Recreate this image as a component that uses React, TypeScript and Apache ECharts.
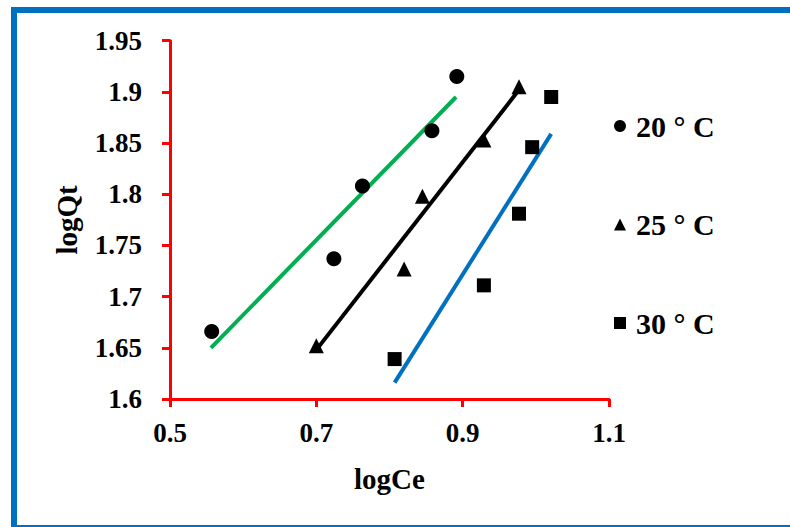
import React, { useEffect, useRef } from "react";
import * as echarts from "echarts";

const xTicks = { min: 0.5, max: 1.1, interval: 0.2 };
const yTicks = { min: 1.6, max: 1.95, interval: 0.05 };

const legendNames = ["20 ° C", "25 ° C", "30 ° C"];

const points20: [number, number][] = [
  [0.557, 1.666],
  [0.724, 1.737],
  [0.763, 1.808],
  [0.858, 1.862],
  [0.892, 1.915],
];
const points25: [number, number][] = [
  [0.7, 1.652],
  [0.82, 1.727],
  [0.845, 1.798],
  [0.929, 1.853],
  [0.977, 1.905],
];
const points30: [number, number][] = [
  [0.807, 1.639],
  [0.929, 1.711],
  [0.977, 1.781],
  [0.995, 1.846],
  [1.021, 1.895],
];

const fit20: [number, number][] = [
  [0.556, 1.65],
  [0.891, 1.895],
];
const fit25: [number, number][] = [
  [0.7, 1.648],
  [0.977, 1.902],
];
const fit30: [number, number][] = [
  [0.807, 1.616],
  [1.021, 1.859],
];

const FONT = "'Liberation Serif', 'Times New Roman', serif";

export default function App() {
  const ref = useRef<HTMLDivElement>(null);
  useEffect(() => {
    if (!ref.current) return;
    const chart = echarts.init(ref.current, null, { renderer: "svg" });
    const axisCommon = {
      axisLine: { show: true, lineStyle: { color: "#FF0000", width: 3 } },
      axisTick: { show: true, inside: false, length: 8, lineStyle: { color: "#FF0000", width: 3 } },
      splitLine: { show: false },
      nameTextStyle: { fontFamily: FONT, fontWeight: "bold", fontSize: 29, color: "#000" },
    };
    const markerStyle = { color: "#000", opacity: 1 };
    chart.setOption({
      animation: false,
      backgroundColor: "#fff",
      grid: { left: 170, right: 181, top: 40.7, bottom: 128, containLabel: false },
      xAxis: {
        type: "value",
        ...xTicks,
        name: "logCe",
        nameLocation: "middle",
        nameGap: 65,
        ...axisCommon,
        axisLabel: { margin: 20, fontFamily: FONT, fontWeight: "bold", fontSize: 27, color: "#000" },
      },
      yAxis: {
        type: "value",
        ...yTicks,
        name: "logQt",
        nameLocation: "middle",
        nameGap: 89,
        ...axisCommon,
        axisLabel: { margin: 28, fontFamily: FONT, fontWeight: "bold", fontSize: 27, color: "#000" },
      },
      legend: {
        orient: "vertical",
        left: 614,
        top: 111,
        padding: 0,
        itemGap: 68.5,
        itemWidth: 12,
        itemHeight: 12,
        itemStyle: { opacity: 1 },
        data: [
          { name: legendNames[0], icon: "circle" },
          { name: legendNames[1], icon: "triangle" },
          { name: legendNames[2], icon: "rect" },
        ],
        textStyle: { fontFamily: FONT, fontWeight: "bold", fontSize: 30, color: "#000", padding: [0, 0, 0, 5], lineHeight: 30 },
      },
      graphic: [
        {
          type: "rect",
          shape: { x: 14, y: 10, width: 800, height: 518 },
          style: { fill: "none", stroke: "#0070C0", lineWidth: 6 },
          silent: true,
        },
      ],
      series: [
        { type: "line", data: fit20, symbol: "none", lineStyle: { color: "#00B050", width: 4 }, z: 2 },
        { type: "line", data: fit25, symbol: "none", lineStyle: { color: "#000000", width: 4 }, z: 2 },
        { type: "line", data: fit30, symbol: "none", lineStyle: { color: "#0070C0", width: 4 }, z: 2 },
        { type: "scatter", name: legendNames[0], data: points20, symbol: "circle", symbolSize: 15, itemStyle: markerStyle, z: 3 },
        { type: "scatter", name: legendNames[1], data: points25, symbol: "triangle", symbolSize: 15, itemStyle: markerStyle, z: 3 },
        { type: "scatter", name: legendNames[2], data: points30, symbol: "rect", symbolSize: 14, itemStyle: markerStyle, z: 3 },
      ],
    });
    return () => chart.dispose();
  }, []);
  return (
    <div
      ref={ref}
      style={{ position: "absolute", left: 0, top: 0, width: 790, height: 527 }}
    />
  );
}
